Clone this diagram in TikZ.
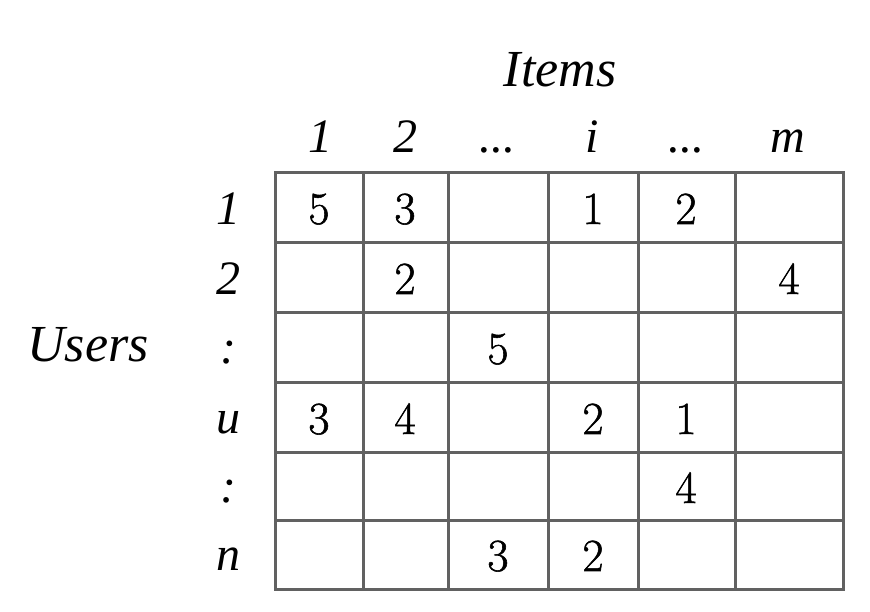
\documentclass[tikz,border=0pt]{standalone}
\usepackage{fontspec}
\newfontfamily\tms{Liberation Serif}
\newfontfamily\lmr[FakeBold=1.2]{Latin Modern Roman}
\begin{document}
\begin{tikzpicture}[x=1pt,y=1pt,
  gridline/.style={draw=black!62,line width=3pt,line cap=rect},
  lbl/.style={font=\fontsize{48}{50}\selectfont\tms\itshape,anchor=base,inner sep=0pt},
  big/.style={font=\fontsize{52}{54}\selectfont\tms\itshape,anchor=base,inner sep=0pt},
  val/.style={font=\fontsize{46}{48}\selectfont\lmr,anchor=base,inner sep=0pt}]
\useasboundingbox (0,0) rectangle (870,612);
% grid: px y -> 612-y
\foreach \x in {275,363,448,548,638,735,843}
  \draw[gridline] (\x,{612-173}) -- (\x,{612-590});
\foreach \y in {173,243,313,383,453,521,590}
  \draw[gridline] (275,{612-\y}) -- (843,{612-\y});
% titles
\node[big] (items) at (560,525) {Items};
\node[big] (users) at (88,{612-362}) {Users};
% column headers
\node[lbl] (c1) at (320,459) {1};
\node[lbl] (c2) at (405,459) {2};
\node[lbl] (c3) at (497,459) {...};
\node[lbl] (c4) at (592,459) {i};
\node[lbl] (c5) at (686,459) {...};
\node[lbl] (c6) at (788,459) {m};
% row headers
\node[lbl] (r1) at (228,{612-225}) {1};
\node[lbl] (r2) at (228,{612-295}) {2};
\node[lbl] (r3) at (228,{612-364}) {:};
\node[lbl] (r4) at (228,{612-434}) {u};
\node[lbl] (r5) at (228,{612-503}) {:};
\node[lbl] (r6) at (228,{612-571}) {n};
% values
\node[val] (v11) at (319,{612-224}) {5};
\node[val] (v12) at (405,{612-224}) {3};
\node[val] (v14) at (593,{612-224}) {1};
\node[val] (v15) at (686,{612-224}) {2};
\node[val] (v22) at (405,{612-294}) {2};
\node[val] (v26) at (789,{612-294}) {4};
\node[val] (v33) at (498,{612-364}) {5};
\node[val] (v41) at (319,{612-434}) {3};
\node[val] (v42) at (405,{612-434}) {4};
\node[val] (v44) at (593,{612-434}) {2};
\node[val] (v45) at (686,{612-434}) {1};
\node[val] (v55) at (686,{612-503}) {4};
\node[val] (v63) at (498,{612-571}) {3};
\node[val] (v64) at (593,{612-571}) {2};
\end{tikzpicture}
\end{document}
